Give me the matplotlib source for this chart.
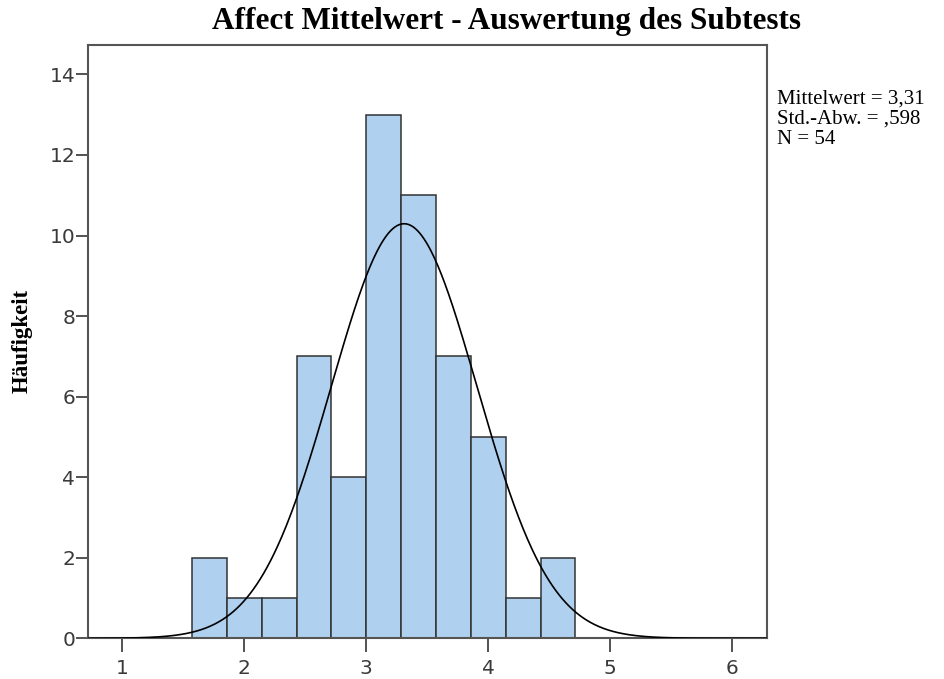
import numpy as np
import matplotlib
matplotlib.use("Agg")
import matplotlib.pyplot as plt

# Data
counts = [2, 1, 1, 7, 4, 13, 11, 7, 5, 1, 2]
bin_start = 11 / 7
bin_width = 2 / 7
mean_val = 3.31
sd_val = 0.598
n_val = 54
x_ticks = [1, 2, 3, 4, 5, 6]
y_ticks = [0, 2, 4, 6, 8, 10, 12, 14]

title = "Affect Mittelwert - Auswertung des Subtests"
ylabel = "Häufigkeit"
stats_lines = ["Mittelwert = 3,31", "Std.-Abw. = ,598", "N = 54"]

W, H = 944, 679
fig = plt.figure(figsize=(W / 100, H / 100), dpi=100)
ax = fig.add_axes([88.3 / W, 1 - 638.3 / H, (766.7 - 88.3) / W, (638.3 - 45) / H])

edges = bin_start + bin_width * np.arange(len(counts) + 1)
ax.bar(edges[:-1], counts, width=bin_width, align="edge",
       color="#AFD0EF", edgecolor="#333333", linewidth=1.1, zorder=2)

xs = np.linspace(0.72, 6.28, 600)
scale = n_val * bin_width
ys = scale / (sd_val * np.sqrt(2 * np.pi)) * np.exp(-0.5 * ((xs - mean_val) / sd_val) ** 2)
ax.plot(xs, ys, color="black", linewidth=1.2, zorder=3)

ax.set_xlim(0.7213, 6.282)
ax.set_ylim(0, 14.73)
ax.set_xticks(x_ticks)
ax.set_yticks(y_ticks)
ax.set_xticklabels([str(t) for t in x_ticks])
ax.set_yticklabels([str(t) for t in y_ticks])

for s in ax.spines.values():
    s.set_color("#555555")
    s.set_linewidth(1.5)

ax.tick_params(axis="x", direction="out", length=10, width=1.3, color="#444444",
               labelsize=14.5, labelcolor="#3a3a3a", pad=5)
ax.tick_params(axis="y", direction="out", length=8.5, width=1.3, color="#444444",
               labelsize=14.5, labelcolor="#3a3a3a", pad=1)
for lab in ax.get_xticklabels() + ax.get_yticklabels():
    lab.set_family("DejaVu Sans")

fig.text(507 / W, 1 - 22 / H, title, ha="center", va="center",
         family="Liberation Serif", fontweight="bold", fontsize=22.5)
fig.text(22 / W, 1 - 341 / H, ylabel, ha="center", va="center", rotation=90,
         family="Liberation Serif", fontweight="bold", fontsize=16.5)
for i, line in enumerate(stats_lines):
    fig.text(777 / W, 1 - (97 + 20 * i) / H, line, ha="left", va="center_baseline",
             family="Liberation Serif", fontsize=15)

fig.savefig("out.png", dpi=100, facecolor="white")
